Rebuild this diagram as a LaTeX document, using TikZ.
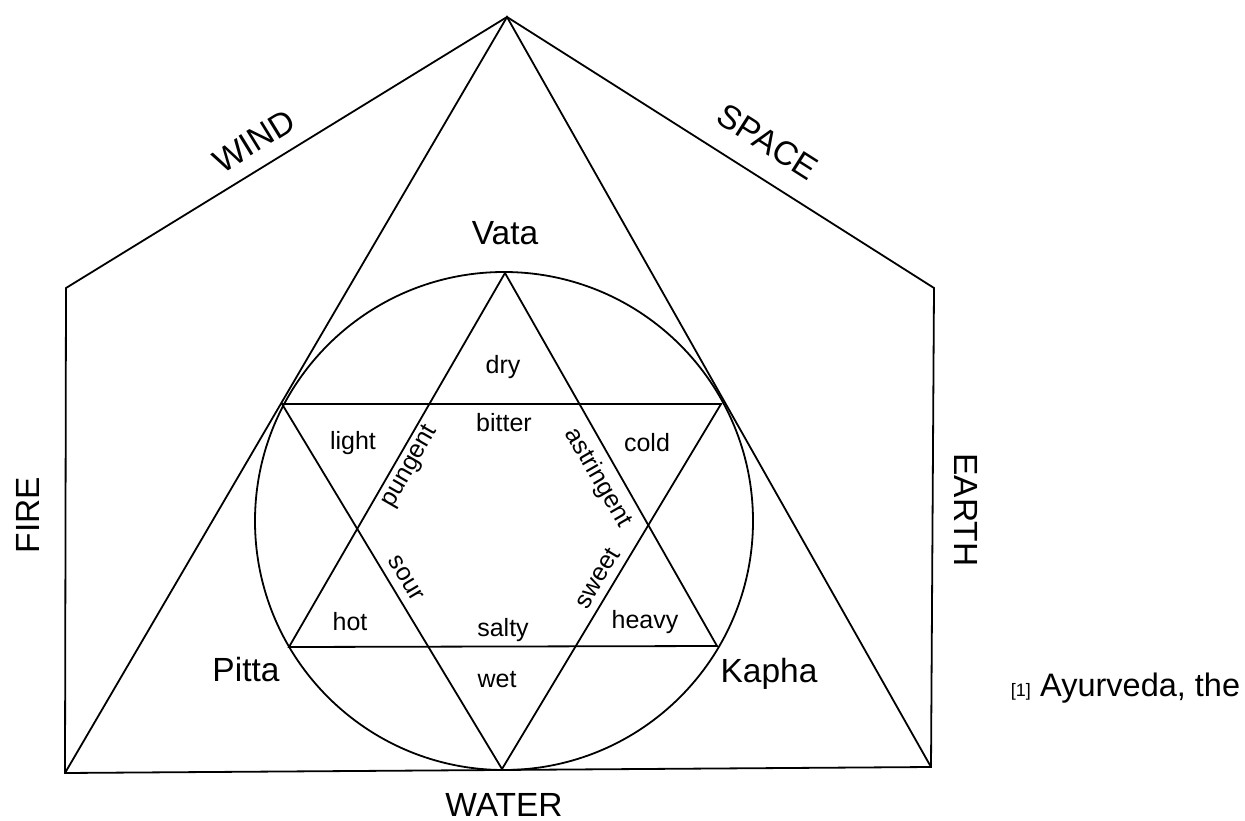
\documentclass[tikz,border=0pt]{standalone}
\usepackage{fontspec}
\setmainfont{Liberation Sans}
\begin{document}
\begin{tikzpicture}[x=1pt,y=1pt,
  edge/.style={line width=1.8pt,line join=miter},
  biglab/.style={font=\fontsize{33.5}{35}\selectfont,inner sep=0pt},
  smalllab/.style={font=\fontsize{25}{27}\selectfont,inner sep=0pt}]
\useasboundingbox[fill=white] (0,0) rectangle (1245,-821);
% vertices
\coordinate (apex) at (507,-17);
\coordinate (pl) at (66,-288);
\coordinate (pr) at (934,-288);
\coordinate (br) at (931,-767);
\coordinate (bl) at (65,-773);
\coordinate (bm) at (502,-769);
% star
\coordinate (ua) at (505,-273);
\coordinate (ul) at (289,-647);
\coordinate (ur) at (717,-646);
\coordinate (dl) at (282,-404);
\coordinate (dr) at (721,-404);
% circle centre
\coordinate (cc) at (504,-521);
% pentagon
\draw[edge] (pl) -- (apex) -- (pr) -- (br) -- (bl) -- cycle;
% big triangle
\draw[edge] (bl) -- (apex) -- (br);
% circle
\draw[edge] (cc) circle[radius=249];
% star
\draw[edge] (ua) -- (ul) -- (ur) -- cycle;
\draw[edge] (dl) -- (dr) -- (bm) -- cycle;
% outer labels
\node[biglab,rotate=31.6] (wind) at (254,-141) {WIND};
\node[biglab,rotate=-32.4] (space) at (768,-142) {SPACE};
\node[biglab,rotate=90] (fire) at (28,-515) {FIRE};
\node[biglab,rotate=-90] (earth) at (966,-510) {EARTH};
\node[biglab] (water) at (504,-805) {WATER};
\node[biglab] (vata) at (505,-233) {Vata};
\node[biglab] (pitta) at (246,-670) {Pitta};
\node[biglab] (kapha) at (769,-674) {Kapha};
% inner labels
\node[smalllab] (dry) at (503,-367) {dry};
\node[smalllab] (bitter) at (504,-423) {bitter};
\node[smalllab] (light) at (353,-443) {light};
\node[smalllab] (cold) at (647,-443) {cold};
\node[smalllab,rotate=60] (pungent) at (410,-467) {pungent};
\node[smalllab,rotate=-60] (astr) at (598,-478) {astringent};
\node[smalllab,rotate=-59] (sour) at (406,-578) {sour};
\node[smalllab,rotate=59] (sweet) at (597,-578) {sweet};
\node[smalllab] (hot) at (350,-622) {hot};
\node[smalllab] (salty) at (503,-630) {salty};
\node[smalllab] (heavy) at (645,-622) {heavy};
\node[smalllab] (wet) at (497,-680) {wet};
% caption
\node[anchor=base west,inner sep=0pt,font=\fontsize{32.5}{34}\selectfont] (cap) at (1040,-696) {Ayurveda, the};
\node[anchor=base east,inner sep=0pt,font=\fontsize{18}{20}\selectfont] (ref) at (1031,-696) {[1]};
\end{tikzpicture}
\end{document}
